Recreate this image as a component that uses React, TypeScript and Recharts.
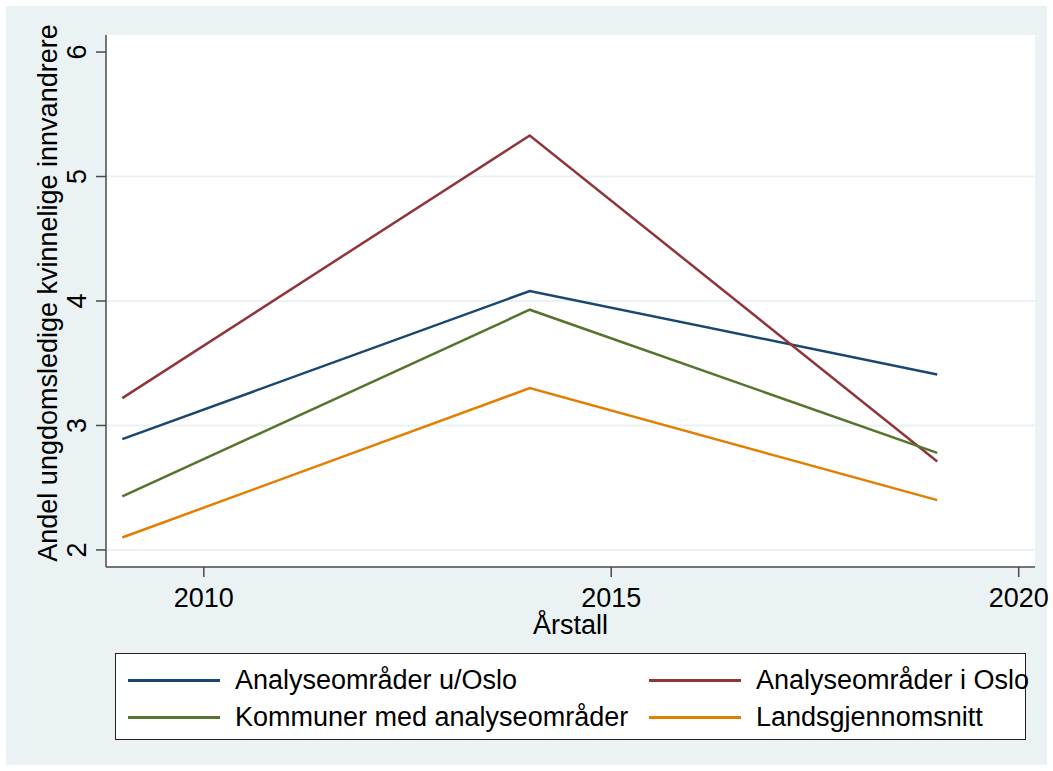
import React from 'react';
import { LineChart, Line, XAxis, YAxis, ReferenceLine, Label } from 'recharts';

const years = [2009, 2014, 2019];
const uOslo = [2.89, 4.08, 3.41];
const iOslo = [3.22, 5.33, 2.71];
const kommuner = [2.43, 3.93, 2.78];
const lands = [2.1, 3.3, 2.4];

const xTicks = [2010, 2015, 2020];
const yTicks = [2, 3, 4, 5, 6];
const gridValues = [2, 3, 4, 5];

const series = [
  { key: 'uOslo', name: 'Analyseområder u/Oslo', color: '#1a476f', values: uOslo },
  { key: 'iOslo', name: 'Analyseområder i Oslo', color: '#90353b', values: iOslo },
  { key: 'kommuner', name: 'Kommuner med analyseområder', color: '#55752f', values: kommuner },
  { key: 'lands', name: 'Landsgjennomsnitt', color: '#e37e00', values: lands },
];

const data = years.map((year, i) => {
  const row: Record<string, number> = { year };
  series.forEach(s => {
    row[s.key] = s.values[i];
  });
  return row;
});

const FONT = '"Liberation Sans", Arial, sans-serif';
const AXIS = '#4a4a4a';
const BG = '#eaf2f3';

// plot box in page pixels
const PLOT = { left: 106, top: 35, right: 1035, bottom: 567 };

function YTick(props: any) {
  const { x, y, payload } = props;
  const tx = x - 8;
  return (
    <text
      x={tx}
      y={y}
      transform={`rotate(-90 ${tx} ${y})`}
      textAnchor="middle"
      fontSize={27}
      fill="#000"
      fontFamily={FONT}
    >
      {payload.value}
    </text>
  );
}

function XTick(props: any) {
  const { x, y, payload } = props;
  return (
    <text x={x} y={y + 28} textAnchor="middle" fontSize={27} fill="#000" fontFamily={FONT}>
      {payload.value}
    </text>
  );
}

function YTitle() {
  const x = 57;
  const y = (PLOT.top + PLOT.bottom) / 2 - 8;
  return (
    <text
      x={x}
      y={y}
      transform={`rotate(-90 ${x} ${y})`}
      textAnchor="middle"
      fontSize={27}
      fill="#000"
      fontFamily={FONT}
    >
      Andel ungdomsledige kvinnelige innvandrere
    </text>
  );
}

function XTitle() {
  return (
    <text
      x={(PLOT.left + PLOT.right) / 2}
      y={634}
      textAnchor="middle"
      fontSize={27}
      fill="#000"
      fontFamily={FONT}
    >
      Årstall
    </text>
  );
}

export default function App() {
  return (
    <div style={{ position: 'absolute', left: 0, top: 0, width: 1053, height: 771, background: '#fff', fontFamily: FONT }}>
      {/* graph region */}
      <div style={{ position: 'absolute', left: 6, top: 6, width: 1041, height: 759, background: BG }} />
      {/* plot region */}
      <div
        style={{
          position: 'absolute',
          left: PLOT.left,
          top: PLOT.top,
          width: PLOT.right - PLOT.left,
          height: PLOT.bottom - PLOT.top,
          background: '#fff',
        }}
      />
      <div style={{ position: 'absolute', left: 0, top: 0 }}>
        <LineChart
          width={1053}
          height={771}
          data={data}
          margin={{ top: PLOT.top, right: 1053 - PLOT.right, bottom: 771 - PLOT.bottom - 40, left: PLOT.left - 60 }}
        >
          <XAxis
            dataKey="year"
            type="number"
            domain={[2008.8, 2020.2]}
            ticks={xTicks}
            allowDataOverflow
            height={40}
            tickSize={10}
            tick={<XTick />}
            axisLine={{ stroke: AXIS, strokeWidth: 1.5 }}
            tickLine={{ stroke: AXIS, strokeWidth: 1.5 }}
          >
            <Label content={<XTitle />} />
          </XAxis>
          <YAxis
            type="number"
            domain={[1.863, 6.137]}
            ticks={yTicks}
            allowDataOverflow
            width={60}
            tickSize={10}
            tickMargin={2}
            tick={<YTick />}
            axisLine={{ stroke: AXIS, strokeWidth: 1.5 }}
            tickLine={{ stroke: AXIS, strokeWidth: 1.5 }}
          >
            <Label content={<YTitle />} />
          </YAxis>
          {gridValues.map(v => (
            <ReferenceLine key={v} y={v} stroke={BG} strokeWidth={2} ifOverflow="extendDomain" />
          ))}
          {series.map(s => (
            <Line
              key={s.key}
              dataKey={s.key}
              name={s.name}
              stroke={s.color}
              strokeWidth={2.5}
              dot={false}
              activeDot={false}
              type="linear"
              isAnimationActive={false}
            />
          ))}
        </LineChart>
      </div>
      {/* legend */}
      <div
        style={{
          position: 'absolute',
          left: 115,
          top: 653,
          width: 911,
          height: 87,
          boxSizing: 'border-box',
          border: '1.5px solid #222',
          background: '#fff',
        }}
      >
        {series.map((s, i) => {
          const col = i % 2;
          const row = Math.floor(i / 2);
          const left = col === 0 ? 12 : 533;
          const top = row === 0 ? 26 : 63;
          return (
            <div key={s.key} style={{ position: 'absolute', left, top: top - 15, height: 30, display: 'flex', alignItems: 'center' }}>
              <div style={{ width: 92, height: 3, background: s.color }} />
              <span style={{ marginLeft: 15, fontSize: 27, color: '#000', whiteSpace: 'nowrap' }}>{s.name}</span>
            </div>
          );
        })}
      </div>
    </div>
  );
}
